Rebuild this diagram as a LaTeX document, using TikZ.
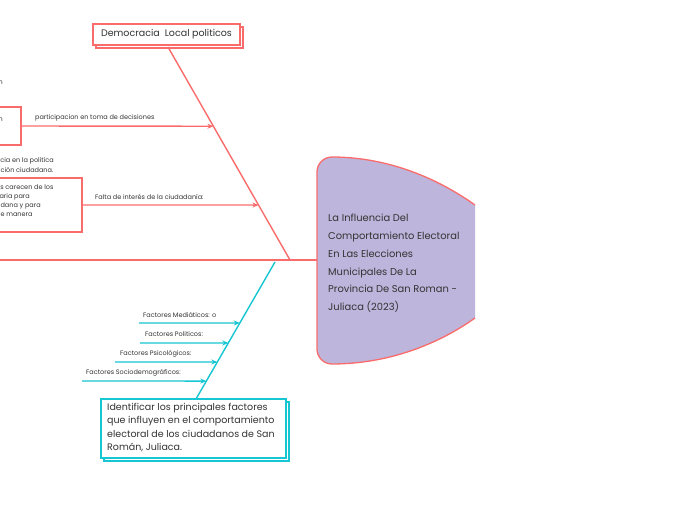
\documentclass[tikz,border=0pt]{standalone}
\usepackage{fontspec}
\setmainfont{Poppins}
\usetikzlibrary{calc,arrows.meta,shadows}
\definecolor{rd}{RGB}{250,108,108}
\definecolor{cy}{RGB}{22,198,210}
\definecolor{lav}{RGB}{189,181,219}
\definecolor{tx}{RGB}{51,51,51}
\tikzset{
  bone/.style={line width=1.4pt},
  arr/.style={-{Stealth[length=6pt,width=5pt]}},
  smalltxt/.style={text=tx,font=\fontsize{6.5}{8}\selectfont,inner sep=0pt},
  boxtxt/.style={text=tx,font=\fontsize{9.5}{13.5}\selectfont,inner sep=0pt,align=left},
  redbox/.style={draw=rd,color=rd,fill=white,line width=1.1pt},
  cybox/.style={draw=cy,color=cy,fill=white,line width=1.1pt},
  dbl/.style={copy shadow={shadow xshift=3pt,shadow yshift=-3pt}},
}
\begin{document}
\begin{tikzpicture}[x=1pt,y=-1pt]
\useasboundingbox[fill=white] (0,0) rectangle (697,520);

% spine
\coordinate (spL) at (0,260);
\coordinate (spR) at (317,260);
\draw[rd,bone] (spL) -- (spR);

% center shape
\fill[lav] (317,172) arc[start angle=180,end angle=270,radius=15] .. controls (390,157) and (440,180) .. (475,205) -- (475,318) .. controls (440,343) and (390,364) .. (332,364) arc[start angle=90,end angle=180,radius=15] -- cycle;
\draw[rd,line width=1.3pt] (475,205) .. controls (440,180) and (390,157) .. (332,157) arc[start angle=270,end angle=180,radius=15] -- (317,349) arc[start angle=180,end angle=90,radius=15] .. controls (390,364) and (440,343) .. (475,318);
\node[text=tx,font=\fontsize{9.9}{17.8}\selectfont,align=left,anchor=north west,inner sep=0pt] (center) at (328,214)
 {La Influencia Del\\Comportamiento Electoral\\En Las Elecciones\\Municipales De La\\Provincia De San Roman -\\Juliaca (2023)};

% top red bone
\node[redbox,dbl,minimum width=147pt,minimum height=21pt,inner sep=0pt] (demo) at (166.5,34.5) {};
\node[text=tx,font=\fontsize{9.5}{11}\selectfont,inner sep=0pt] (demotxt) at (166.5,34.5) {Democracia\ \ Local politicos};
\coordinate (rTop) at (168,47);
\coordinate (rBot) at (290,260);
\draw[rd,bone] (rTop) -- (rBot);
\coordinate (r1) at ($(rTop)!0.372!(rBot)$);
\coordinate (r2) at ($(rTop)!0.742!(rBot)$);

% left partial boxes
\node[redbox,minimum width=60pt,minimum height=38pt,inner sep=0pt] (lb1) at (-9,126) {};
\node[redbox,minimum width=120pt,minimum height=54pt,inner sep=0pt] (lb2) at (22,205) {};
\coordinate (lb1e) at (21,126);
\coordinate (lb2e) at (82,205);
\draw[rd,bone,arr] (lb1e) -- (r1);
\draw[rd,bone,arr] (lb2e) -- (r2);
\node[smalltxt,anchor=west] (l1) at (35,118) {participacion en toma de decisiones};
\node[smalltxt,anchor=west] (l2) at (95,197) {Falta de interés de la ciudadanía:};

% cut-off texts at left edge
\node[smalltxt,anchor=east] (f0) at (3,83) {en};
\node[smalltxt,anchor=east] (f1) at (3,120) {en};
\node[smalltxt,anchor=west,align=left,font=\fontsize{6.5}{10}\selectfont] (f2) at (-4,165) {ncia en la politica\\ación ciudadana.};
\node[smalltxt,anchor=north west,align=left,font=\fontsize{6.5}{9.2}\selectfont] (f3) at (-4,184) {os carecen de los\\saria para\\adana y para\\ de manera};

% cyan bone
\node[cybox,dbl,minimum width=185pt,minimum height=59pt,inner sep=0pt] (goal) at (193.5,428.5) {};
\node[boxtxt,anchor=north west] (goaltxt) at (107,403) {Identificar los principales factores\\que influyen en el comportamiento\\electoral de los ciudadanos de San\\Román, Juliaca.};
\coordinate (cTop) at (275,262);
\coordinate (cBot) at (196,399);
\draw[cy,bone] (cTop) -- (cBot);
\coordinate (c1) at ($(cTop)!0.445!(cBot)$);
\coordinate (c2) at ($(cTop)!0.591!(cBot)$);
\coordinate (c3) at ($(cTop)!0.730!(cBot)$);
\coordinate (c4) at ($(cTop)!0.869!(cBot)$);
\coordinate (s1) at (139,323);
\coordinate (s2) at (140,343);
\coordinate (s3) at (115,362);
\coordinate (s4) at (82,381);
\draw[cy,bone,arr] (s1) -- (c1);
\draw[cy,bone,arr] (s2) -- (c2);
\draw[cy,bone,arr] (s3) -- (c3);
\draw[cy,bone,arr] (s4) -- (c4);
\node[smalltxt,anchor=west] (t1) at (143,315) {Factores Mediáticos: o};
\node[smalltxt,anchor=west] (t2) at (145,334) {Factores Politicos:};
\node[smalltxt,anchor=west] (t3) at (120,354) {Factores Psicológicos:};
\node[smalltxt,anchor=west] (t4) at (86,373) {Factores Sociodemográficos:};
\end{tikzpicture}
\end{document}
